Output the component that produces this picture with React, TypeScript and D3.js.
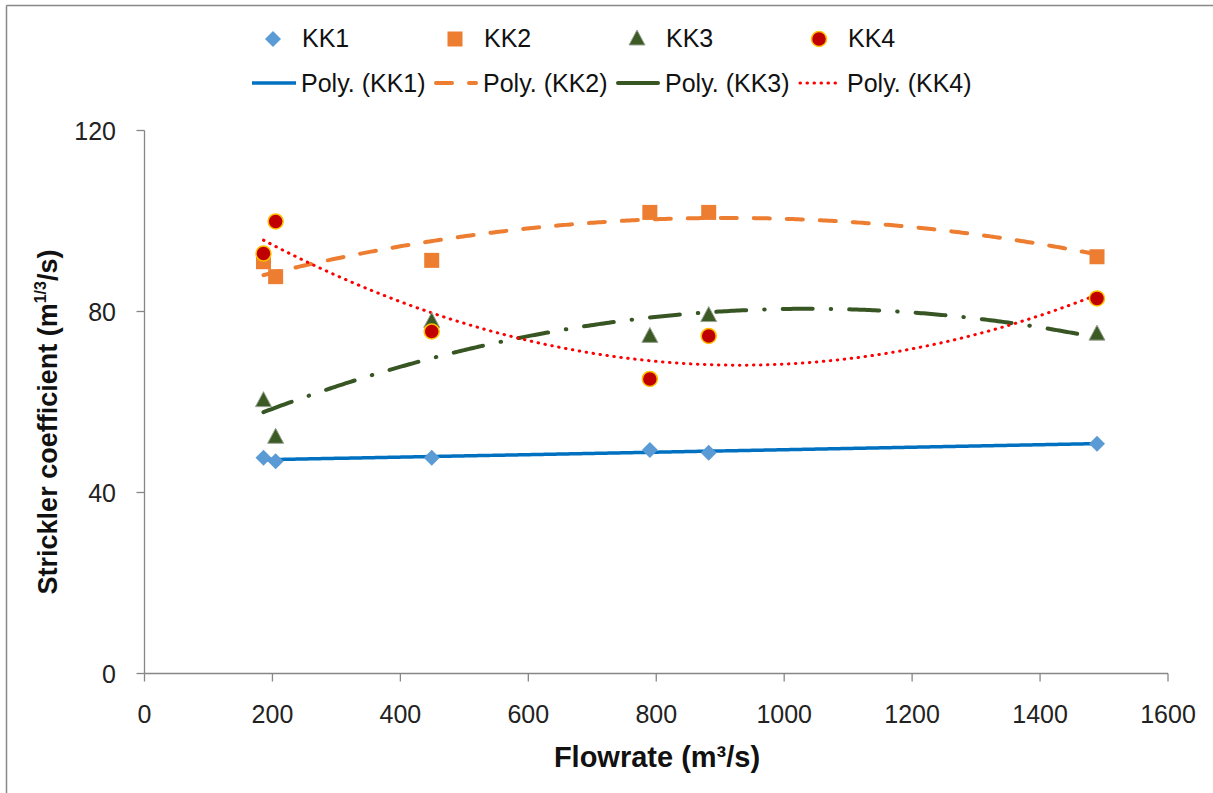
import React from "react";
import * as d3 from "d3";

const flowrate = [186, 205, 449, 790, 882, 1489];
const kk1 = [47.7, 46.9, 47.7, 49.4, 48.8, 50.8];
const kk2 = [91.0, 87.7, 91.3, 101.9, 101.9, 92.1];
const kk3 = [60.3, 52.2, 77.8, 74.5, 79.1, 75.0];
const kk4 = [92.8, 99.9, 75.6, 65.1, 74.6, 82.9];
const seriesNames = ["KK1", "KK2", "KK3", "KK4"];
const xTicks = [0, 200, 400, 600, 800, 1000, 1200, 1400, 1600];
const yTicks = [0, 40, 80, 120];

const W = 1213;
const H = 793;
const FONT = "'Liberation Sans', Arial, sans-serif";

const x = d3.scaleLinear().domain([0, 1600]).range([144.5, 1168]);
const y = d3.scaleLinear().domain([0, 120]).range([673.5, 130.5]);

// quadratic least-squares trendline (like Excel's "Poly." order 2)
function polyFit(xs: number[], ys: number[]) {
  const n = xs.length;
  const m = d3.mean(xs)!;
  const u = xs.map((v) => (v - m) / 1000);
  let s0 = n, s1 = 0, s2 = 0, s3 = 0, s4 = 0, t0 = 0, t1 = 0, t2 = 0;
  for (let i = 0; i < n; i++) {
    const a = u[i];
    s1 += a; s2 += a * a; s3 += a * a * a; s4 += a * a * a * a;
    t0 += ys[i]; t1 += a * ys[i]; t2 += a * a * ys[i];
  }
  const M = [
    [s0, s1, s2, t0],
    [s1, s2, s3, t1],
    [s2, s3, s4, t2],
  ];
  for (let c = 0; c < 3; c++) {
    let p = c;
    for (let r = c + 1; r < 3; r++) if (Math.abs(M[r][c]) > Math.abs(M[p][c])) p = r;
    [M[c], M[p]] = [M[p], M[c]];
    for (let r = 0; r < 3; r++) {
      if (r === c) continue;
      const f = M[r][c] / M[c][c];
      for (let k = c; k < 4; k++) M[r][k] -= f * M[c][k];
    }
  }
  const b0 = M[0][3] / M[0][0], b1 = M[1][3] / M[1][1], b2 = M[2][3] / M[2][2];
  return (v: number) => {
    const a = (v - m) / 1000;
    return b0 + b1 * a + b2 * a * a;
  };
}

const seriesData = [kk1, kk2, kk3, kk4];
const lineColors = ["#0070C0", "#ED7D31", "#375623", "#FF0000"];
const lineDash = ["", "16 17", "30 18 0.5 18", "0.5 6.5"];
const lineWidth = [3.5, 4, 4, 3];

function Marker({ k, cx, cy }: { k: number; cx: number; cy: number }) {
  if (k === 0) {
    const r = 8;
    return <path d={`M${cx},${cy - r}L${cx + r},${cy}L${cx},${cy + r}L${cx - r},${cy}Z`} fill="#5B9BD5" />;
  }
  if (k === 1) {
    return <rect x={cx - 7.5} y={cy - 7.5} width={15} height={15} fill="#ED7D31" />;
  }
  if (k === 2) {
    return (
      <path
        d={`M${cx},${cy - 9}L${cx + 8},${cy + 6}L${cx - 8},${cy + 6}Z`}
        fill="#3B5A24"
        stroke="#9aa394"
        strokeWidth={1}
      />
    );
  }
  return <circle cx={cx} cy={cy} r={7.5} fill="#C00000" stroke="#FFC000" strokeWidth={1.5} />;
}

export default function App() {
  const xs = d3.range(d3.min(flowrate)!, d3.max(flowrate)! + 0.5, 4);
  const line = d3.line<[number, number]>().x((d) => x(d[0])).y((d) => y(d[1])).curve(d3.curveLinear);
  const fits = seriesData.map((s) => polyFit(flowrate, s));

  const legendStep = 182;
  return (
    <svg
      width={W}
      height={H}
      style={{ position: "absolute", left: 0, top: 0, background: "#fff" }}
      fontFamily={FONT}
    >
      <rect x={0} y={0} width={W} height={H} fill="#fff" />
      <line x1={6.5} y1={5.5} x2={6.5} y2={H} stroke="#888" strokeWidth={1.5} />
      <line x1={6.5} y1={5.5} x2={W} y2={5.5} stroke="#888" strokeWidth={1.5} />

      {/* axes */}
      <line x1={x(0)} y1={y(0)} x2={x(0)} y2={y(120)} stroke="#868686" strokeWidth={1.3} />
      <line x1={x(0)} y1={y(0)} x2={x(1600)} y2={y(0)} stroke="#868686" strokeWidth={1.3} />
      {yTicks.map((t) => (
        <g key={"y" + t}>
          <line x1={x(0) - 8} x2={x(0)} y1={y(t)} y2={y(t)} stroke="#868686" strokeWidth={1.3} />
          <text x={116} y={y(t) + 9} textAnchor="end" fontSize={25} fill="#222">
            {t}
          </text>
        </g>
      ))}
      {xTicks.map((t) => (
        <g key={"x" + t}>
          <line x1={x(t)} x2={x(t)} y1={y(0)} y2={y(0) + 8} stroke="#868686" strokeWidth={1.3} />
          <text x={x(t)} y={723} textAnchor="middle" fontSize={25} fill="#222">
            {t}
          </text>
        </g>
      ))}

      {/* axis titles */}
      <text x={657} y={767} textAnchor="middle" fontSize={29} fontWeight="bold" fill="#111">
        Flowrate (m³/s)
      </text>
      <text
        transform="translate(57,422) rotate(-90)"
        textAnchor="middle"
        fontSize={27}
        fontWeight="bold"
        fill="#111"
      >
        Strickler coefficient (m<tspan fontSize={16} dy={-11}>1/3</tspan>
        <tspan dy={11}>/s)</tspan>
      </text>

      {/* trendlines */}
      {fits.map((f, k) => (
        <path
          key={"fit" + k}
          d={line(xs.map((v) => [v, f(v)] as [number, number]))!}
          fill="none"
          stroke={lineColors[k]}
          strokeWidth={lineWidth[k]}
          strokeDasharray={lineDash[k] || undefined}
          strokeLinecap={k === 0 ? "butt" : "round"}
        />
      ))}

      {/* markers */}
      {seriesData.map((s, k) =>
        s.map((v, i) => <Marker key={`m${k}-${i}`} k={k} cx={x(flowrate[i])} cy={y(v)} />)
      )}

      {/* legend */}
      {seriesNames.map((name, k) => (
        <g key={"leg1" + k}>
          <Marker k={k} cx={273 + k * legendStep} cy={39} />
          <text x={302 + k * legendStep} y={47} fontSize={25} fill="#111">
            {name}
          </text>
        </g>
      ))}
      {seriesNames.map((name, k) => (
        <g key={"leg2" + k}>
          <line
            x1={252 + k * legendStep + (k === 0 ? 0 : 2)}
            x2={296 + k * legendStep - (k === 0 ? 0 : 2)}
            y1={83}
            y2={83}
            stroke={lineColors[k]}
            strokeWidth={lineWidth[k]}
            strokeDasharray={k === 2 ? undefined : lineDash[k] || undefined}
            strokeLinecap={k === 0 ? "butt" : "round"}
          />
          <text x={301 + k * legendStep} y={92} fontSize={25} fill="#111">
            {`Poly. (${name})`}
          </text>
        </g>
      ))}
    </svg>
  );
}
